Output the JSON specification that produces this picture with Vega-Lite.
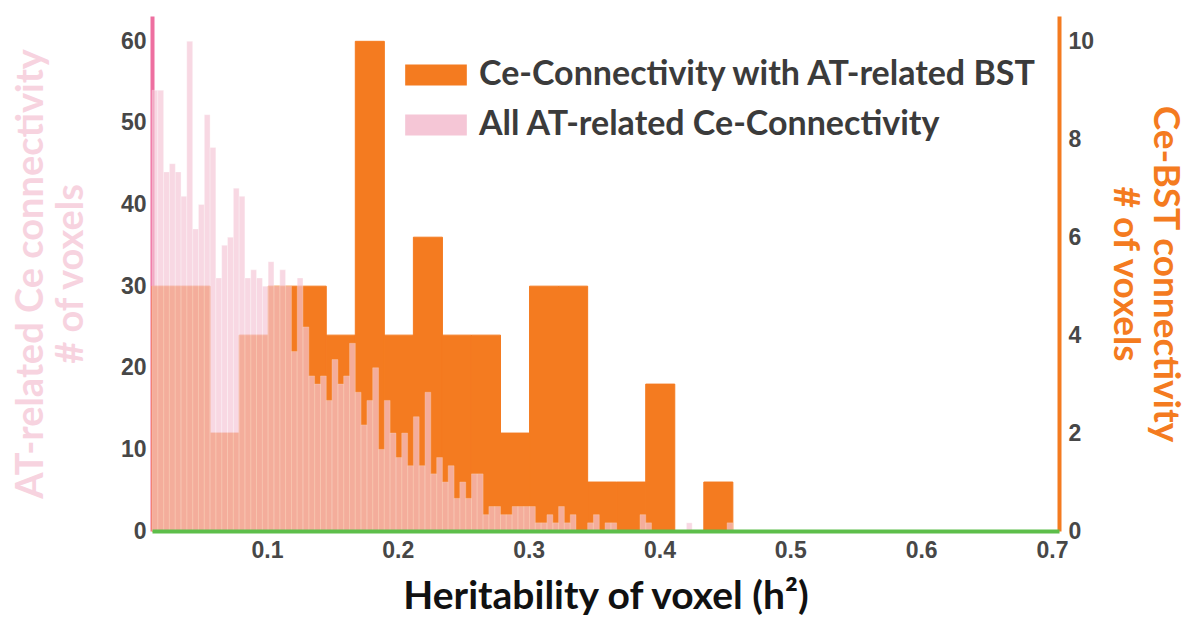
{
  "$schema": "https://vega.github.io/schema/vega-lite/v6.json",
  "width": 907,
  "height": 515,
  "autosize": {"type": "none"},
  "padding": {"left": 152, "top": 16, "right": 134, "bottom": 88},
  "background": "white",
  "config": {
    "view": {"stroke": null},
    "axis": {"grid": false, "ticks": false, "labelFont": "Liberation Sans", "labelFontSize": 23, "labelFontWeight": "bold", "labelColor": "#474747", "titleFont": "Lato", "titleFontWeight": "bold"}
  },
  "datasets": {
    "bst": [
      {"lo": 0.0121, "hi": 0.0343, "n": 5},
      {"lo": 0.0343, "hi": 0.0565, "n": 5},
      {"lo": 0.0565, "hi": 0.0787, "n": 2},
      {"lo": 0.0787, "hi": 0.1009, "n": 4},
      {"lo": 0.1009, "hi": 0.1231, "n": 5},
      {"lo": 0.1231, "hi": 0.1453, "n": 5},
      {"lo": 0.1453, "hi": 0.1675, "n": 4},
      {"lo": 0.1675, "hi": 0.1897, "n": 10},
      {"lo": 0.1897, "hi": 0.2119, "n": 4},
      {"lo": 0.2119, "hi": 0.2341, "n": 6},
      {"lo": 0.2341, "hi": 0.2563, "n": 4},
      {"lo": 0.2563, "hi": 0.2785, "n": 4},
      {"lo": 0.2785, "hi": 0.3007, "n": 2},
      {"lo": 0.3007, "hi": 0.3229, "n": 5},
      {"lo": 0.3229, "hi": 0.3451, "n": 5},
      {"lo": 0.3451, "hi": 0.3673, "n": 1},
      {"lo": 0.3673, "hi": 0.3895, "n": 1},
      {"lo": 0.3895, "hi": 0.4117, "n": 3},
      {"lo": 0.4339, "hi": 0.4561, "n": 1}
    ],
    "all": [
      {"lo": 0.0121, "hi": 0.0165, "n": 54},
      {"lo": 0.0165, "hi": 0.0210, "n": 54},
      {"lo": 0.0210, "hi": 0.0254, "n": 44},
      {"lo": 0.0254, "hi": 0.0299, "n": 45},
      {"lo": 0.0299, "hi": 0.0343, "n": 44},
      {"lo": 0.0343, "hi": 0.0387, "n": 41},
      {"lo": 0.0387, "hi": 0.0432, "n": 60},
      {"lo": 0.0432, "hi": 0.0476, "n": 37},
      {"lo": 0.0476, "hi": 0.0521, "n": 40},
      {"lo": 0.0521, "hi": 0.0565, "n": 51},
      {"lo": 0.0565, "hi": 0.0609, "n": 47},
      {"lo": 0.0609, "hi": 0.0654, "n": 31},
      {"lo": 0.0654, "hi": 0.0698, "n": 35},
      {"lo": 0.0698, "hi": 0.0743, "n": 36},
      {"lo": 0.0743, "hi": 0.0787, "n": 42},
      {"lo": 0.0787, "hi": 0.0831, "n": 41},
      {"lo": 0.0831, "hi": 0.0876, "n": 31},
      {"lo": 0.0876, "hi": 0.0920, "n": 32},
      {"lo": 0.0920, "hi": 0.0965, "n": 31},
      {"lo": 0.0965, "hi": 0.1009, "n": 30},
      {"lo": 0.1009, "hi": 0.1053, "n": 33},
      {"lo": 0.1053, "hi": 0.1098, "n": 30},
      {"lo": 0.1098, "hi": 0.1142, "n": 32},
      {"lo": 0.1142, "hi": 0.1187, "n": 30},
      {"lo": 0.1187, "hi": 0.1231, "n": 22},
      {"lo": 0.1231, "hi": 0.1275, "n": 31},
      {"lo": 0.1275, "hi": 0.1320, "n": 25},
      {"lo": 0.1320, "hi": 0.1364, "n": 19},
      {"lo": 0.1364, "hi": 0.1409, "n": 18},
      {"lo": 0.1409, "hi": 0.1453, "n": 19},
      {"lo": 0.1453, "hi": 0.1497, "n": 16},
      {"lo": 0.1497, "hi": 0.1542, "n": 21},
      {"lo": 0.1542, "hi": 0.1586, "n": 18},
      {"lo": 0.1586, "hi": 0.1631, "n": 19},
      {"lo": 0.1631, "hi": 0.1675, "n": 23},
      {"lo": 0.1675, "hi": 0.1719, "n": 17},
      {"lo": 0.1719, "hi": 0.1764, "n": 13},
      {"lo": 0.1764, "hi": 0.1808, "n": 16},
      {"lo": 0.1808, "hi": 0.1853, "n": 20},
      {"lo": 0.1853, "hi": 0.1897, "n": 10},
      {"lo": 0.1897, "hi": 0.1941, "n": 16},
      {"lo": 0.1941, "hi": 0.1986, "n": 12},
      {"lo": 0.1986, "hi": 0.2030, "n": 9},
      {"lo": 0.2030, "hi": 0.2075, "n": 12},
      {"lo": 0.2075, "hi": 0.2119, "n": 8},
      {"lo": 0.2119, "hi": 0.2163, "n": 14},
      {"lo": 0.2163, "hi": 0.2208, "n": 8},
      {"lo": 0.2208, "hi": 0.2252, "n": 17},
      {"lo": 0.2252, "hi": 0.2297, "n": 7},
      {"lo": 0.2297, "hi": 0.2341, "n": 9},
      {"lo": 0.2341, "hi": 0.2385, "n": 6},
      {"lo": 0.2385, "hi": 0.2430, "n": 8},
      {"lo": 0.2430, "hi": 0.2474, "n": 4},
      {"lo": 0.2474, "hi": 0.2519, "n": 6},
      {"lo": 0.2519, "hi": 0.2563, "n": 4},
      {"lo": 0.2563, "hi": 0.2607, "n": 7},
      {"lo": 0.2607, "hi": 0.2652, "n": 7},
      {"lo": 0.2652, "hi": 0.2696, "n": 2},
      {"lo": 0.2696, "hi": 0.2741, "n": 3},
      {"lo": 0.2741, "hi": 0.2785, "n": 3},
      {"lo": 0.2785, "hi": 0.2829, "n": 2},
      {"lo": 0.2829, "hi": 0.2874, "n": 2},
      {"lo": 0.2874, "hi": 0.2918, "n": 3},
      {"lo": 0.2918, "hi": 0.2963, "n": 3},
      {"lo": 0.2963, "hi": 0.3007, "n": 3},
      {"lo": 0.3007, "hi": 0.3051, "n": 3},
      {"lo": 0.3051, "hi": 0.3096, "n": 1},
      {"lo": 0.3096, "hi": 0.3140, "n": 1},
      {"lo": 0.3140, "hi": 0.3185, "n": 2},
      {"lo": 0.3185, "hi": 0.3229, "n": 1},
      {"lo": 0.3229, "hi": 0.3273, "n": 3},
      {"lo": 0.3273, "hi": 0.3318, "n": 1},
      {"lo": 0.3318, "hi": 0.3362, "n": 2},
      {"lo": 0.3451, "hi": 0.3495, "n": 1},
      {"lo": 0.3495, "hi": 0.3540, "n": 2},
      {"lo": 0.3584, "hi": 0.3629, "n": 1},
      {"lo": 0.3629, "hi": 0.3673, "n": 1},
      {"lo": 0.3851, "hi": 0.3895, "n": 2},
      {"lo": 0.3895, "hi": 0.3939, "n": 1},
      {"lo": 0.4206, "hi": 0.4250, "n": 1},
      {"lo": 0.4517, "hi": 0.4561, "n": 1}
    ]
  },
  "resolve": {"scale": {"y": "independent"}, "axis": {"y": "independent"}},
  "layer": [
    {
      "data": {"name": "bst"},
      "mark": {"type": "bar", "stroke": "#F47B20", "strokeWidth": 1},
      "encoding": {
        "x": {"field": "lo", "type": "quantitative",
          "scale": {"domain": [0.0121, 0.7054], "nice": false, "zero": false},
          "axis": {"values": [0.1, 0.2, 0.3, 0.4, 0.5, 0.6, 0.7], "format": ".1f", "domainColor": "#5DBE4A", "domainWidth": 4, "zindex": 1, "labelPadding": 8, "title": "Heritability of voxel (h²)", "titleFontSize": 39, "titleColor": "#111111", "titlePadding": 15}},
        "x2": {"field": "hi"},
        "y": {"field": "n", "type": "quantitative",
          "scale": {"domain": [0, 10.517], "nice": false},
          "axis": {"orient": "right", "values": [0, 2, 4, 6, 8, 10], "domainColor": "#F47B20", "domainWidth": 4, "labelPadding": 9, "title": ["Ce-BST connectivity", "# of voxels"], "titleColor": "#F47B20", "titleFontSize": 37, "titleLineHeight": 40, "titlePadding": 12}},
        "y2": {"datum": 0},
        "color": {"datum": "Ce-Connectivity with AT-related BST", "type": "nominal",
          "scale": {"domain": ["Ce-Connectivity with AT-related BST", "All AT-related Ce-Connectivity"], "range": ["#F47B20", "#F5C6D6"]},
          "legend": {"orient": "none", "legendX": 253, "legendY": 28, "title": null, "symbolType": "M-1,-0.34H1V0.34H-1Z", "symbolSize": 3800, "symbolStrokeWidth": 0, "symbolOpacity": 1, "labelFont": "Lato", "labelFontWeight": "bold", "labelFontSize": 34, "labelColor": "#3b3b3b", "labelOffset": 12, "rowPadding": 2, "labelLimit": 900}}
      }
    },
    {
      "data": {"name": "all"},
      "mark": {"type": "bar", "opacity": 0.68, "stroke": "#ffffff", "strokeWidth": 0.7, "strokeOpacity": 0.5},
      "encoding": {
        "x": {"field": "lo", "type": "quantitative"},
        "x2": {"field": "hi"},
        "y": {"field": "n", "type": "quantitative",
          "scale": {"domain": [0, 63.1], "nice": false},
          "axis": {"orient": "left", "values": [0, 10, 20, 30, 40, 50, 60], "domainColor": "#EE6FA0", "domainWidth": 4, "labelPadding": 6, "title": ["AT-related Ce connectivity", "# of voxels"], "titleColor": "#F7D3DF", "titleFontSize": 38, "titleLineHeight": 40, "titlePadding": 30}},
        "y2": {"datum": 0},
        "color": {"datum": "All AT-related Ce-Connectivity", "type": "nominal"}
      }
    }
  ]
}
